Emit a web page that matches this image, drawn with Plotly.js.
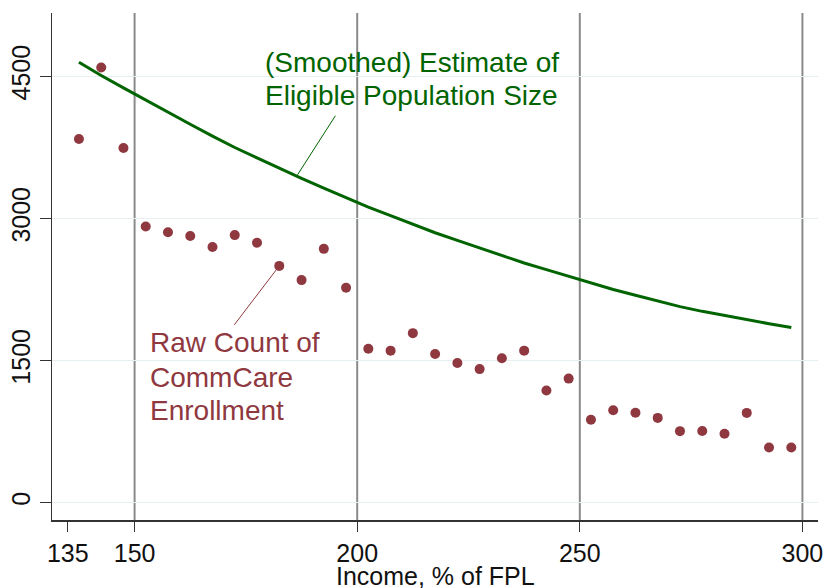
<!DOCTYPE html>
<html>
<head>
<meta charset="utf-8">
<script src="https://cdn.plot.ly/plotly-3.0.1.min.js"></script>
<style>
  html, body { margin: 0; padding: 0; background: #fff; }
  #chart { width: 824px; height: 588px; }
</style>
</head>
<body>
<div id="chart"></div>
<script>
// income bins (% of FPL), bin midpoints
const incomeBins = [
  137.5, 142.5, 147.5, 152.5, 157.5, 162.5, 167.5, 172.5, 177.5, 182.5, 187.5,
  192.5, 197.5, 202.5, 207.5, 212.5, 217.5, 222.5, 227.5, 232.5, 237.5, 242.5,
  247.5, 252.5, 257.5, 262.5, 267.5, 272.5, 277.5, 282.5, 287.5, 292.5, 297.5
];

// raw CommCare enrollment count per bin
const enrollment = [
  3840, 4595, 3745, 2915, 2855, 2815, 2700, 2825, 2745, 2500, 2350,
  2680, 2270, 1625, 1605, 1790, 1570, 1475, 1410, 1525, 1605, 1185,
  1310, 875, 975, 950, 895, 755, 757, 728, 948, 582, 582
];

// smoothed estimate of eligible population
const eligible = [
  4650, 4510, 4380, 4250, 4120, 3995, 3870, 3750, 3640, 3530, 3425,
  3320, 3220, 3120, 3030, 2940, 2850, 2770, 2690, 2610, 2530, 2460,
  2390, 2320, 2250, 2190, 2130, 2070, 2020, 1975, 1930, 1890, 1850
];

const xTicks = [135, 150, 200, 250, 300];
const yTicks = [0, 1500, 3000, 4500];
const refLines = [150, 200, 250, 300];

const xTitle = 'Income, % of FPL';
const greenLabel = ['(Smoothed) Estimate of', 'Eligible Population Size'];
const redLabel = ['Raw Count of', 'CommCare', 'Enrollment'];

const RED = '#8f3840';
const GREEN = '#006400';
const FONT = 'Liberation Sans, Arial, sans-serif';

const traces = [
  {
    type: 'scatter',
    mode: 'markers',
    x: incomeBins,
    y: enrollment,
    marker: { size: 10, color: RED },
    name: 'Raw Count of CommCare Enrollment',
    hoverinfo: 'x+y',
  },
  {
    type: 'scatter',
    mode: 'lines',
    x: incomeBins,
    y: eligible,
    line: { color: GREEN, width: 3 },
    name: 'Eligible Population',
    hoverinfo: 'x+y',
  },
];

// vertical reference lines at the round FPL cutoffs
const shapes = refLines.map((v) => ({
  type: 'line',
  xref: 'x', yref: 'paper',
  x0: v, x1: v, y0: 0, y1: 1,
  line: { color: '#8a8a8a', width: 2 },
  layer: 'below',
}));

// label pointer lines
shapes.push({
  type: 'line', xref: 'x', yref: 'y',
  x0: 195.1, y0: 4085, x1: 186.6, y1: 3462,
  line: { color: GREEN, width: 1 },
});
shapes.push({
  type: 'line', xref: 'x', yref: 'y',
  x0: 172.4, y0: 1878, x1: 182.5, y1: 2500,
  line: { color: RED, width: 1 },
});

// one annotation per text line so the line spacing follows the original
function labelLines(lines, x, ys, color) {
  return lines.map((t, i) => ({
    x, y: ys[i], xref: 'x', yref: 'y',
    xanchor: 'left', yanchor: 'middle', align: 'left',
    text: t,
    showarrow: false,
    font: { family: FONT, size: 28, color },
  }));
}

const annotations = [
  ...labelLines(greenLabel, 178.9, [4645, 4296], GREEN),
  ...labelLines(redLabel, 152.9, [1687, 1317, 968], RED),
  // x-axis title sits lower than plotly's margin allows, so place it by hand
  {
    x: 0.5, y: -0.079, xref: 'paper', yref: 'paper',
    xanchor: 'center', yanchor: 'top',
    text: xTitle,
    showarrow: false,
    font: { family: FONT, size: 25, color: '#111' },
  },
];

const layout = {
  width: 824,
  height: 588,
  margin: { l: 52, r: 6, t: 13, b: 68 },
  paper_bgcolor: '#fff',
  plot_bgcolor: '#fff',
  showlegend: false,
  font: { family: FONT, size: 25, color: '#111' },
  xaxis: {
    range: [131.45, 303.5],
    tickvals: xTicks,
    ticks: 'outside',
    ticklen: 10,
    tickwidth: 1.3,
    tickcolor: '#333',
    showgrid: false,
    zeroline: false,
    showline: true,
    linecolor: '#333',
    linewidth: 1.5,
    tickfont: { size: 25 },
    automargin: false,
  },
  yaxis: {
    range: [-183, 5170],
    tickvals: yTicks,
    tickangle: -90,
    ticks: 'outside',
    ticklen: 11,
    tickwidth: 1.3,
    tickcolor: '#333',
    showgrid: true,
    gridcolor: '#e6eff2',
    gridwidth: 1.5,
    zeroline: false,
    showline: true,
    linecolor: '#333',
    linewidth: 1.5,
    tickfont: { size: 25 },
    automargin: false,
  },
  shapes,
  annotations,
};

Plotly.newPlot('chart', traces, layout, { displayModeBar: false, staticPlot: true });
</script>
</body>
</html>
